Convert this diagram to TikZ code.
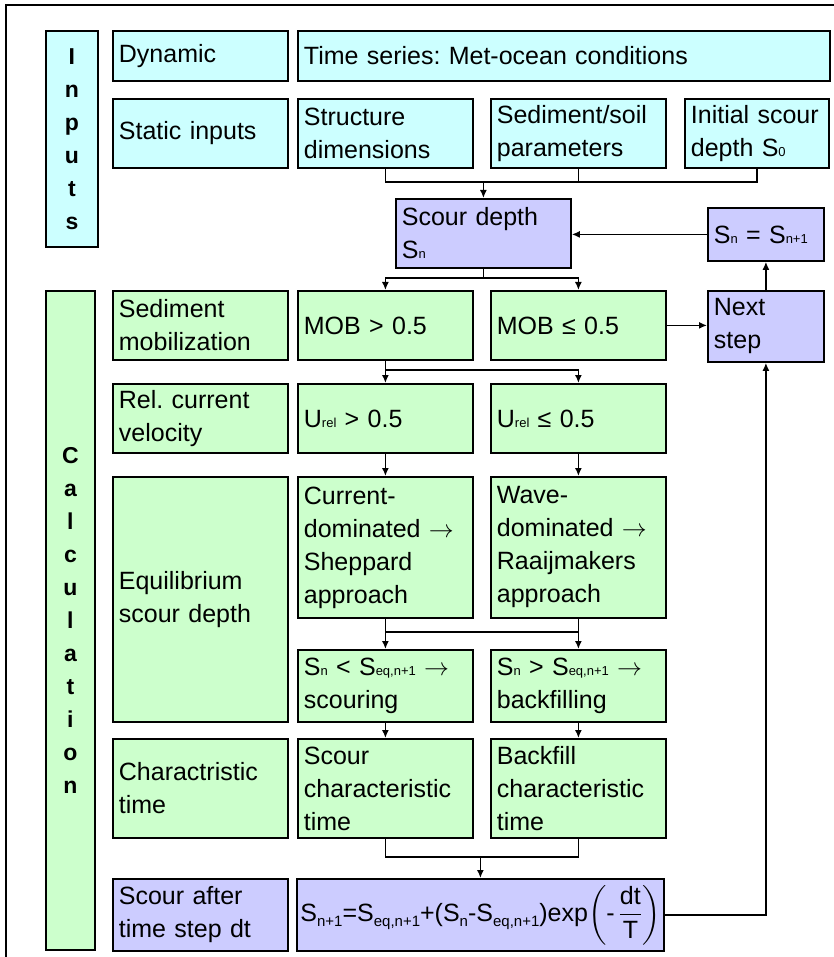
\documentclass[tikz,border=0pt]{standalone}
\usepackage{fontspec}
\usepackage{amsmath}
\setmainfont{Liberation Sans}
\usetikzlibrary{arrows.meta}
\definecolor{inpcol}{HTML}{CCFFFF}
\definecolor{calcol}{HTML}{CCFFCC}
\definecolor{updcol}{HTML}{CCCCFF}
\newcommand{\lowsub}[1]{{\fontsize{13}{13}\selectfont #1}}
\newcommand{\eqsub}[1]{\raisebox{-5pt}{\fontsize{15}{15}\selectfont #1}}
\newcommand{\thenarrow}{$\rightarrow$}
\frenchspacing

\begin{document}
\begin{tikzpicture}[x=1pt, y=-1pt,
    box/.style={draw, line width=1.8pt, anchor=north west, align=left,
                inner xsep=6pt, inner ysep=0pt, font=\fontsize{25}{33}\selectfont},
    inp/.style={box, fill=inpcol},
    calc/.style={box, fill=calcol},
    upd/.style={box, fill=updcol},
    colw/.style={minimum width=175pt, text width=163pt},
    side/.style={draw, line width=1.8pt, anchor=north west, align=center,
                 inner sep=0pt, font=\bfseries\fontsize{23}{33}\selectfont},
    link/.style={line width=1.5pt},
    arr/.style={link, -{Latex[length=8pt, width=7pt]}}]
    \useasboundingbox (0,0) rectangle (834,957);
    \draw[line width=2.6pt] (6,957) -- (6,5) -- (834,5);

    % inputs
    \node[side, fill=inpcol, minimum width=52pt, minimum height=216pt] (inputs) at (45,30)
         {I\\n\\p\\u\\t\\s};
    \node[inp, colw, minimum height=50pt] (dyn) at (112,30) {Dynamic};
    \node[inp, minimum width=532pt, text width=520pt, minimum height=50pt] (series) at (297,30)
         {Time series: Met-ocean conditions};
    \node[inp, colw, minimum height=69pt] (static) at (112,98) {Static inputs};
    \node[inp, colw, minimum height=69pt] (struct) at (297,98) {Structure\\dimensions};
    \node[inp, colw, minimum height=69pt] (soil) at (490,98) {Sediment/soil\\parameters};
    \node[inp, minimum width=144pt, text width=132pt, minimum height=69pt] (init) at (684,98)
         {Initial scour\\depth S\lowsub{0}};

    % scour depth and update
    \node[upd, colw, minimum height=69pt] (depth) at (395,198) {Scour depth\\S\lowsub{n}};
    \node[upd, minimum width=116pt, text width=104pt, minimum height=53pt] (recur) at (707,207)
         {S\lowsub{n} = S\lowsub{n+1}};

    % calculation
    \node[side, fill=calcol, minimum width=49pt, minimum height=659pt] (calcs) at (45,290)
         {C\\a\\l\\c\\u\\l\\a\\t\\i\\o\\n};
    \node[calc, colw, minimum height=69pt] (mobil) at (112,290) {Sediment\\mobilization};
    \node[calc, colw, minimum height=69pt] (mobHi) at (297,290) {MOB > 0.5};
    \node[calc, colw, minimum height=69pt] (mobLo) at (490,290) {MOB ≤ 0.5};
    \node[upd, minimum width=116pt, text width=104pt, minimum height=71pt] (next) at (707,290)
         {Next\\step};

    \node[calc, colw, minimum height=69pt] (relvel) at (112,383) {Rel. current\\velocity};
    \node[calc, colw, minimum height=69pt] (urelHi) at (297,383) {U\lowsub{rel} > 0.5};
    \node[calc, colw, minimum height=69pt] (urelLo) at (490,383) {U\lowsub{rel} ≤ 0.5};

    \node[calc, colw, minimum height=245pt] (equil) at (112,476) {Equilibrium\\scour depth};
    \node[calc, colw, minimum height=141pt] (curDom) at (297,476)
         {Current-\\dominated \thenarrow\\Sheppard\\approach};
    \node[calc, colw, minimum height=141pt] (waveDom) at (490,476)
         {Wave-\\dominated \thenarrow\\Raaijmakers\\approach};
    \node[calc, colw, minimum height=72pt] (snLt) at (297,649)
         {S\lowsub{n} < S\lowsub{eq,n+1} \thenarrow\\scouring};
    \node[calc, colw, minimum height=72pt] (snGt) at (490,649)
         {S\lowsub{n} > S\lowsub{eq,n+1} \thenarrow\\backfilling};

    \node[calc, colw, minimum height=99pt] (chart) at (112,738) {Charactristic\\time};
    \node[calc, colw, minimum height=99pt] (scourT) at (297,738)
         {Scour\\characteristic\\time};
    \node[calc, colw, minimum height=99pt] (backT) at (490,738)
         {Backfill\\characteristic\\time};

    \node[upd, colw, minimum height=72pt] (after) at (112,878) {Scour after\\time step dt};
    \node[upd, align=center, inner xsep=3pt, minimum width=367pt, text width=361pt,
          minimum height=72pt] (formula) at (296,878)
         {S\eqsub{n+1}=S\eqsub{eq,n+1}+(S\eqsub{n}-S\eqsub{eq,n+1})exp%
          $\left(\text{-}\,\dfrac{\text{dt}}{\text{T}}\right)$};

    % junctions
    \coordinate (jIn) at (depth.north |- 0,182);
    \coordinate (jDepth) at (depth.south |- 0,278);
    \coordinate (jMob) at (mobHi.south |- 0,370);
    \coordinate (jEqL) at (curDom.south |- 0,632);
    \coordinate (jEqR) at (waveDom.south |- 0,632);
    \coordinate (jT) at (formula.north |- 0,857);

    % connectors
    \draw[link] (struct.south) |- (jIn) -| (init.south);
    \draw[link] (soil.south) -- (soil.south |- jIn);
    \draw[arr] (jIn) -- (depth.north);
    \draw[arr] (recur.west) -- (recur.west -| depth.east);
    \draw[link] (depth.south) -- (jDepth);
    \draw[arr] (jDepth) -| (mobHi.north);
    \draw[arr] (jDepth) -| (mobLo.north);
    \draw[arr] (mobLo.east) -- (mobLo.east -| next.west);
    \draw[arr] (next.north) -- (recur.south);
    \draw[arr] (mobHi.south) -- (urelHi.north);
    \draw[arr] (jMob) -| (urelLo.north);
    \draw[arr] (urelHi.south) -- (curDom.north);
    \draw[arr] (urelLo.south) -- (waveDom.north);
    \draw[arr] (curDom.south) -- (snLt.north);
    \draw[arr] (waveDom.south) -- (snGt.north);
    \draw[link] (jEqL) -- (jEqR);
    \draw[arr] (snLt.south) -- (scourT.north);
    \draw[arr] (snGt.south) -- (backT.north);
    \draw[link] (scourT.south) |- (jT) -| (backT.south);
    \draw[arr] (jT) -- (formula.north);
    \draw[arr] (formula.east) -| (next.south);
\end{tikzpicture}
\end{document}
